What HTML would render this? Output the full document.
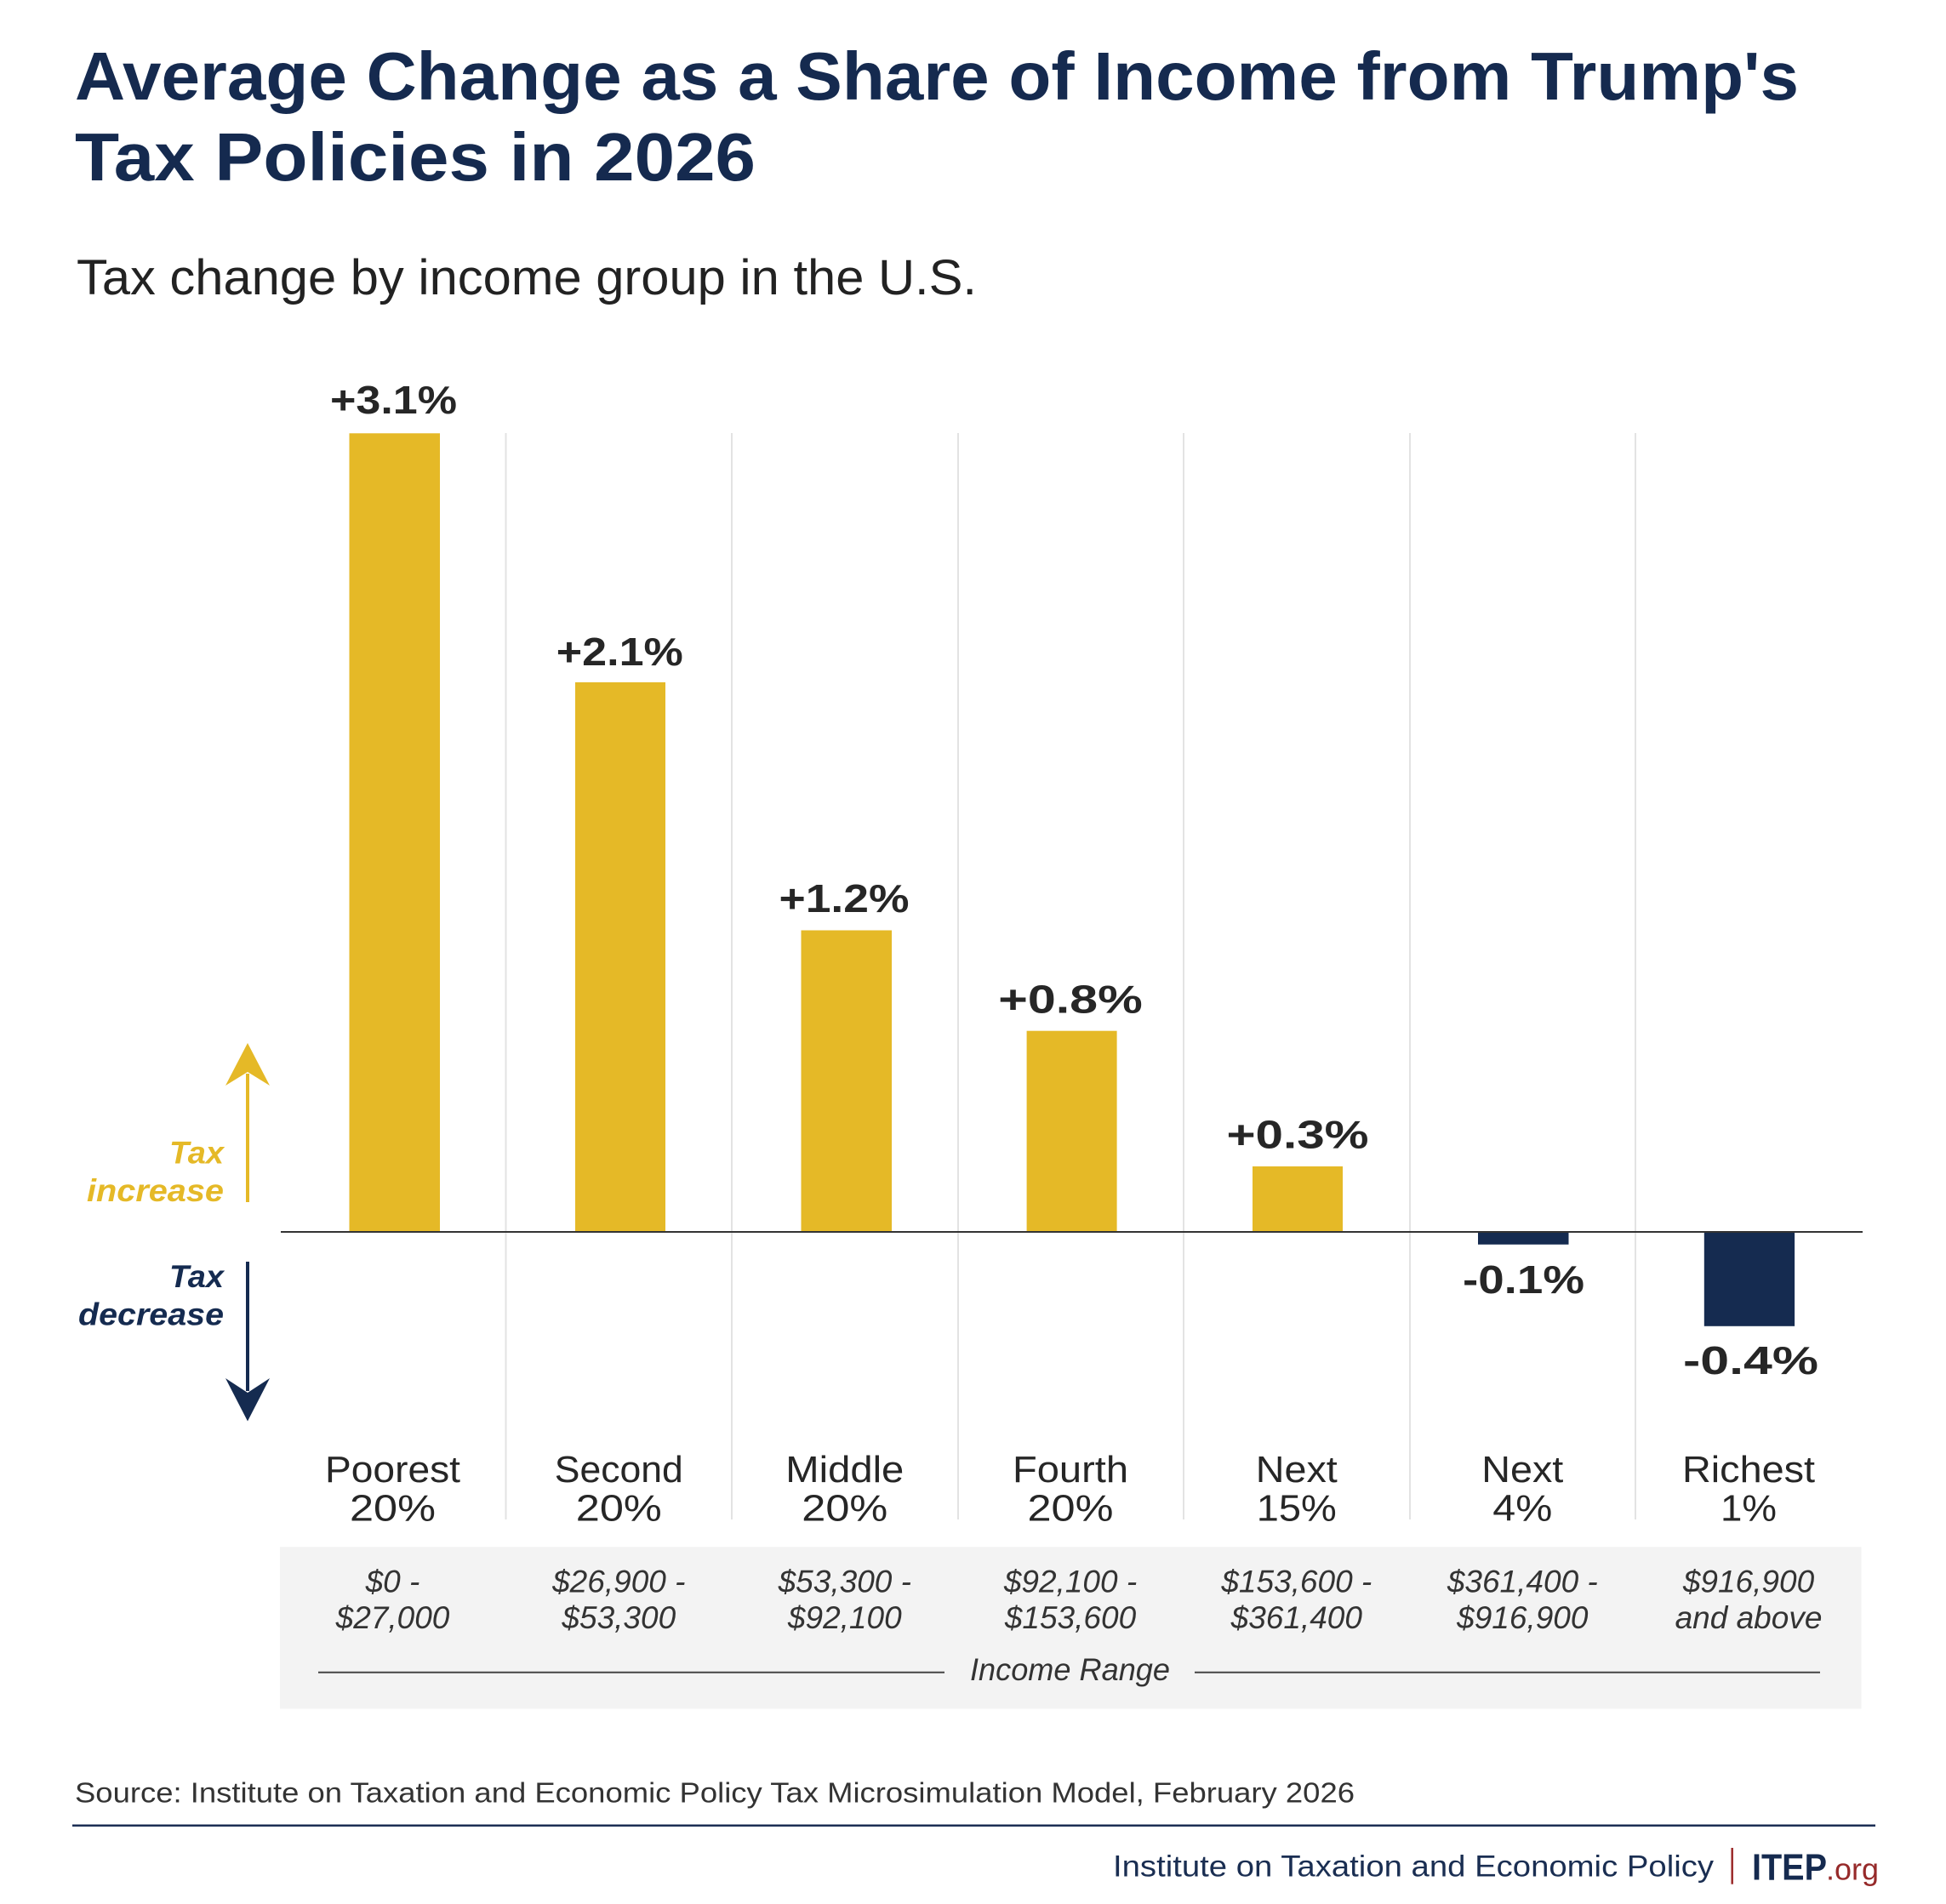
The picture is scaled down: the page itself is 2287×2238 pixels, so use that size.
<!DOCTYPE html>
<html>
<head>
<meta charset="utf-8">
<style>
  html, body { margin: 0; padding: 0; background: #ffffff; }
  svg { display: block; }
  text { font-family: "Liberation Sans", Arial, sans-serif; }
</style>
</head>
<body>
<svg width="2287" height="2238" viewBox="0 0 2287 2238" xmlns="http://www.w3.org/2000/svg">
  <rect x="0" y="0" width="2287" height="2238" fill="#ffffff"/>

  <!-- Title -->
  <text x="88" y="117" font-size="80" font-weight="bold" fill="#152a4f" textLength="2026" lengthAdjust="spacingAndGlyphs">Average Change as a Share of Income from Trump's</text>
  <text x="88" y="212" font-size="80" font-weight="bold" fill="#152a4f" textLength="800" lengthAdjust="spacingAndGlyphs">Tax Policies in 2026</text>

  <!-- Subtitle -->
  <text x="90" y="346" font-size="58" fill="#222222" textLength="1058" lengthAdjust="spacingAndGlyphs">Tax change by income group in the U.S.</text>

  <!-- Grid lines -->
  <g stroke="#e3e3e3" stroke-width="2">
    <line x1="594.5" y1="509" x2="594.5" y2="1786"/>
    <line x1="860" y1="509" x2="860" y2="1786"/>
    <line x1="1126" y1="509" x2="1126" y2="1786"/>
    <line x1="1391" y1="509" x2="1391" y2="1786"/>
    <line x1="1657" y1="509" x2="1657" y2="1786"/>
    <line x1="1922" y1="509" x2="1922" y2="1786"/>
  </g>

  <!-- Bars -->
  <g fill="#e5b927">
    <rect x="410.5" y="509.3" width="106.5" height="938.7"/>
    <rect x="676" y="802" width="106" height="646"/>
    <rect x="941.5" y="1093.5" width="106.5" height="354.5"/>
    <rect x="1206.6" y="1211.7" width="106" height="236.3"/>
    <rect x="1472" y="1371" width="106" height="77"/>
  </g>
  <g fill="#152b50">
    <rect x="1737" y="1448" width="106.5" height="14.8"/>
    <rect x="2002.8" y="1448" width="106.3" height="110.8"/>
  </g>

  <!-- Zero line -->
  <line x1="330" y1="1448" x2="2189" y2="1448" stroke="#333333" stroke-width="2"/>

  <!-- Bar labels -->
  <g font-size="46" font-weight="bold" fill="#262626" text-anchor="middle">
    <text x="462.5" y="486" textLength="149" lengthAdjust="spacingAndGlyphs">+3.1%</text>
    <text x="728.3" y="782" textLength="149" lengthAdjust="spacingAndGlyphs">+2.1%</text>
    <text x="992" y="1072" textLength="153" lengthAdjust="spacingAndGlyphs">+1.2%</text>
    <text x="1258" y="1190.3" textLength="169.5" lengthAdjust="spacingAndGlyphs">+0.8%</text>
    <text x="1525" y="1349.5" textLength="167" lengthAdjust="spacingAndGlyphs">+0.3%</text>
    <text x="1790.5" y="1520" textLength="143" lengthAdjust="spacingAndGlyphs">-0.1%</text>
    <text x="2057.5" y="1615" textLength="159" lengthAdjust="spacingAndGlyphs">-0.4%</text>
  </g>

  <!-- Up arrow (tax increase) -->
  <line x1="291" y1="1413" x2="291" y2="1262" stroke="#e5b927" stroke-width="4"/>
  <polygon points="291,1226 317,1276 291,1260 265,1276" fill="#e5b927"/>
  <text x="263" y="1367.4" font-size="37" font-weight="bold" font-style="italic" fill="#e5b927" text-anchor="end" textLength="64" lengthAdjust="spacingAndGlyphs">Tax</text>
  <text x="263" y="1412" font-size="37" font-weight="bold" font-style="italic" fill="#e5b927" text-anchor="end" textLength="161" lengthAdjust="spacingAndGlyphs">increase</text>

  <!-- Down arrow (tax decrease) -->
  <line x1="291" y1="1483" x2="291" y2="1635" stroke="#152b50" stroke-width="4"/>
  <polygon points="291,1670.5 317,1620 291,1637 265,1620" fill="#152b50"/>
  <text x="263" y="1512.8" font-size="37" font-weight="bold" font-style="italic" fill="#152b50" text-anchor="end" textLength="64" lengthAdjust="spacingAndGlyphs">Tax</text>
  <text x="263" y="1557.6" font-size="37" font-weight="bold" font-style="italic" fill="#152b50" text-anchor="end" textLength="171" lengthAdjust="spacingAndGlyphs">decrease</text>

  <!-- Category labels -->
  <g font-size="44" fill="#262626" text-anchor="middle">
    <text x="461.5" y="1742" textLength="159" lengthAdjust="spacingAndGlyphs">Poorest</text>
    <text x="461.5" y="1787.5" textLength="101" lengthAdjust="spacingAndGlyphs">20%</text>
    <text x="727.3" y="1742" textLength="151" lengthAdjust="spacingAndGlyphs">Second</text>
    <text x="727.3" y="1787.5" textLength="101" lengthAdjust="spacingAndGlyphs">20%</text>
    <text x="992.8" y="1742" textLength="139" lengthAdjust="spacingAndGlyphs">Middle</text>
    <text x="992.8" y="1787.5" textLength="101" lengthAdjust="spacingAndGlyphs">20%</text>
    <text x="1258" y="1742" textLength="136" lengthAdjust="spacingAndGlyphs">Fourth</text>
    <text x="1258" y="1787.5" textLength="101" lengthAdjust="spacingAndGlyphs">20%</text>
    <text x="1523.8" y="1742" textLength="96" lengthAdjust="spacingAndGlyphs">Next</text>
    <text x="1523.8" y="1787.5" textLength="94" lengthAdjust="spacingAndGlyphs">15%</text>
    <text x="1789.3" y="1742" textLength="96" lengthAdjust="spacingAndGlyphs">Next</text>
    <text x="1789.3" y="1787.5" textLength="70" lengthAdjust="spacingAndGlyphs">4%</text>
    <text x="2055" y="1742" textLength="156" lengthAdjust="spacingAndGlyphs">Richest</text>
    <text x="2055" y="1787.5" textLength="66" lengthAdjust="spacingAndGlyphs">1%</text>
  </g>

  <!-- Income range box -->
  <rect x="329" y="1818.3" width="1858.5" height="190.2" fill="#f3f3f3"/>
  <g font-size="37" font-style="italic" fill="#333333" text-anchor="middle">
    <text x="461.5" y="1871.5">$0 -</text>
    <text x="461.5" y="1914">$27,000</text>
    <text x="727.3" y="1871.5">$26,900 -</text>
    <text x="727.3" y="1914">$53,300</text>
    <text x="992.8" y="1871.5">$53,300 -</text>
    <text x="992.8" y="1914">$92,100</text>
    <text x="1258" y="1871.5">$92,100 -</text>
    <text x="1258" y="1914">$153,600</text>
    <text x="1523.8" y="1871.5">$153,600 -</text>
    <text x="1523.8" y="1914">$361,400</text>
    <text x="1789.3" y="1871.5">$361,400 -</text>
    <text x="1789.3" y="1914">$916,900</text>
    <text x="2055" y="1871.5">$916,900</text>
    <text x="2055" y="1914">and above</text>
    <text x="1257.5" y="1975" textLength="235" lengthAdjust="spacingAndGlyphs">Income Range</text>
  </g>
  <g stroke="#444444" stroke-width="2">
    <line x1="374" y1="1965.7" x2="1110" y2="1965.7"/>
    <line x1="1404" y1="1965.7" x2="2139" y2="1965.7"/>
  </g>

  <!-- Source -->
  <text x="88" y="2118.5" font-size="33" fill="#333333" textLength="1504" lengthAdjust="spacingAndGlyphs">Source: Institute on Taxation and Economic Policy Tax Microsimulation Model, February 2026</text>

  <!-- Footer rule -->
  <line x1="85" y1="2145.7" x2="2204" y2="2145.7" stroke="#1c2f55" stroke-width="2.5"/>

  <!-- Footer branding -->
  <text x="1308" y="2205.7" font-size="35" fill="#1a2e52" textLength="706" lengthAdjust="spacingAndGlyphs">Institute on Taxation and Economic Policy</text>
  <line x1="2035.7" y1="2172" x2="2035.7" y2="2214.7" stroke="#9b2a2a" stroke-width="2.5"/>
  <text x="2059" y="2209.7" font-size="44" font-weight="bold" fill="#152a4f" textLength="88" lengthAdjust="spacingAndGlyphs">ITEP</text>
  <text x="2146" y="2209.7" font-size="36" fill="#962a2a" textLength="62" lengthAdjust="spacingAndGlyphs">.org</text>
</svg>
</body>
</html>
